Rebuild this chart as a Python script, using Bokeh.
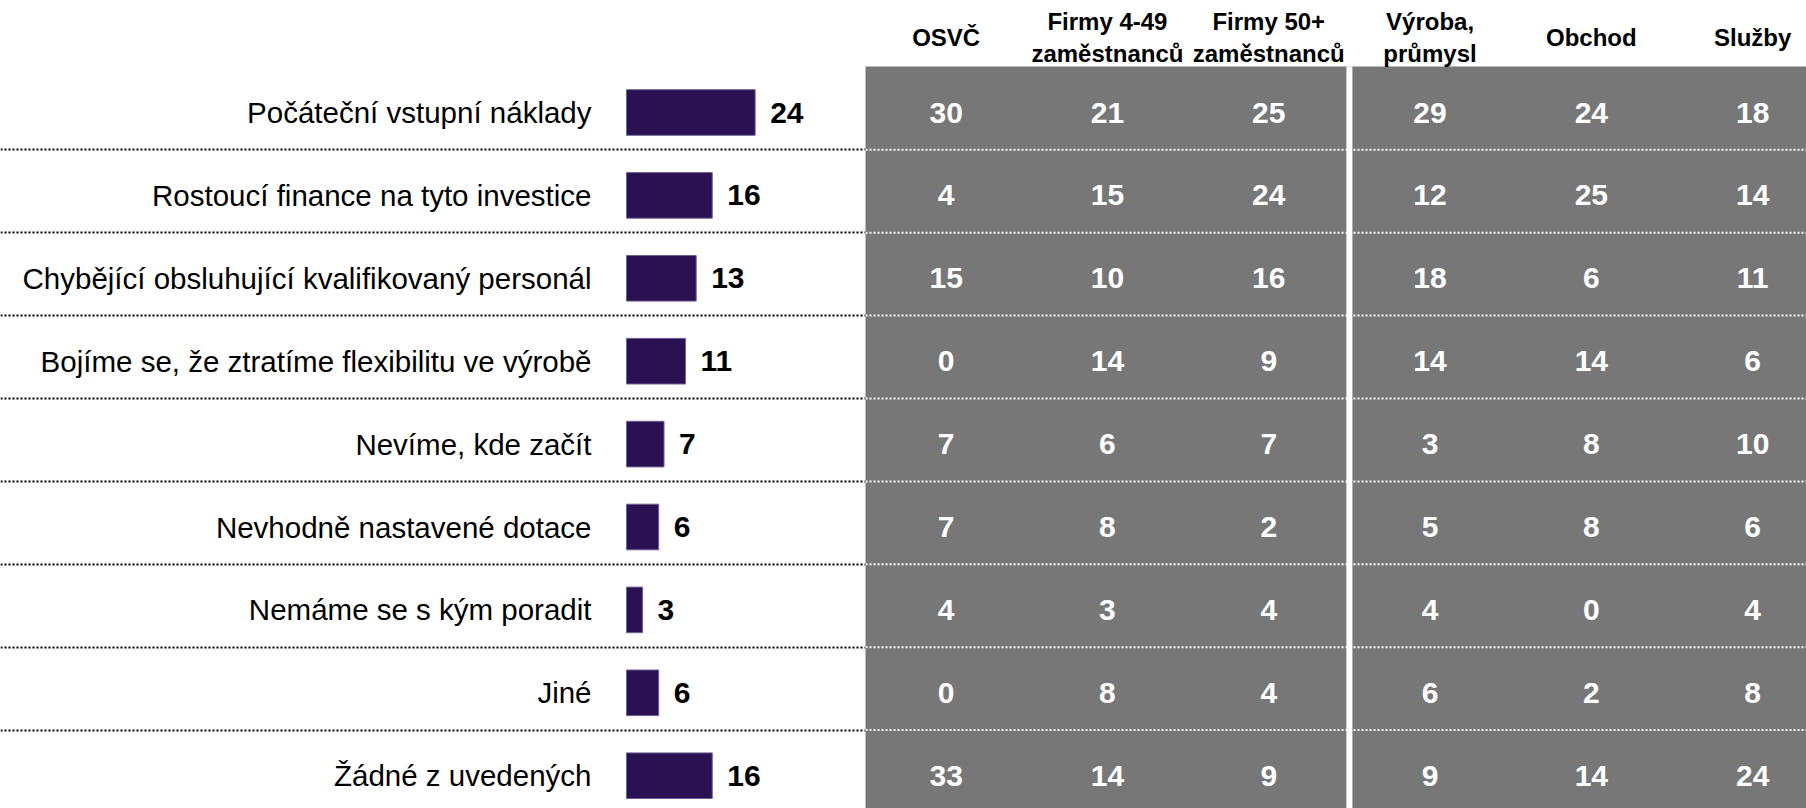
from bokeh.plotting import figure
from bokeh.models import Range1d, ColumnDataSource
from bokeh.core.properties import value
from bokeh.embed import file_html
from bokeh.resources import INLINE

# ---------------- data ----------------
categories = [
    "Počáteční vstupní náklady",
    "Rostoucí finance na tyto investice",
    "Chybějící obsluhující kvalifikovaný personál",
    "Bojíme se, že ztratíme flexibilitu ve výrobě",
    "Nevíme, kde začít",
    "Nevhodně nastavené dotace",
    "Nemáme se s kým poradit",
    "Jiné",
    "Žádné z uvedených",
]
totals = [24, 16, 13, 11, 7, 6, 3, 6, 16]

column_labels = ["OSVČ", "Firmy 4-49\nzaměstnanců", "Firmy 50+\nzaměstnanců",
                 "Výroba,\nprůmysl", "Obchod", "Služby"]
osvc = [30, 4, 15, 0, 7, 7, 4, 0, 33]
firmy_4_49 = [21, 15, 10, 14, 6, 8, 3, 8, 14]
firmy_50 = [25, 24, 16, 9, 7, 2, 4, 4, 9]
vyroba = [29, 12, 18, 14, 3, 5, 4, 6, 9]
obchod = [24, 25, 6, 14, 8, 8, 0, 2, 14]
sluzby = [18, 14, 11, 6, 10, 6, 4, 8, 24]
table = [osvc, firmy_4_49, firmy_50, vyroba, obchod, sluzby]

# ---------------- layout constants ----------------
W, H = 1806, 808
BAR_X0_PX = 626.0      # pixel where value 0 sits
PX_PER_UNIT = 5.36
ROW0_PX = 112.0        # pixel of first row centre (from top)
ROW_PX = 82.9
COL0_PX = 865.0        # left edge of grey panel
COL_PX = 161.3

FONT = "Liberation Sans"
BAR_COLOR = "#2A1152"
GREY = "#777777"

x_range = Range1d(-BAR_X0_PX / PX_PER_UNIT, (W - BAR_X0_PX) / PX_PER_UNIT)
y_range = Range1d((H - ROW0_PX) / ROW_PX, -ROW0_PX / ROW_PX)

p = figure(width=W, height=H, x_range=x_range, y_range=y_range,
           output_backend="svg", toolbar_location=None, min_border=0,
           x_axis_location=None, y_axis_location=None)
p.grid.visible = False
p.outline_line_color = None
p.background_fill_color = "white"
p.border_fill_color = "white"
p.extra_x_ranges = {"cols": Range1d(-COL0_PX / COL_PX - 0.5, (W - COL0_PX) / COL_PX - 0.5)}

rows = list(range(len(categories)))
n_cols = len(column_labels)
panel_top = -0.555
panel_bottom = len(categories) + 0.5
seps = [r + 0.45 for r in rows[:-1]]

# black dotted separators across the whole width
p.hspan(y=seps, line_color="black", line_width=2, line_dash="2 2")

# grey panel
p.quad(left=[-0.5], right=[n_cols - 0.5], top=[panel_top], bottom=[panel_bottom],
       x_range_name="cols", fill_color=GREY, line_color=None)
# white gap between the two panels
p.segment(x0=[2.5], x1=[2.5], y0=[panel_top], y1=[panel_bottom], x_range_name="cols",
          line_color="white", line_width=6)
# white dotted separators over the panel
p.segment(x0=[-0.5] * len(seps), x1=[n_cols - 0.5] * len(seps), y0=seps, y1=seps,
          x_range_name="cols", line_color="white", line_width=2, line_dash="2 2")

# bars
src = ColumnDataSource(dict(row=rows, total=totals, cat=categories,
                            lbl=[str(v) for v in totals]))
p.hbar(y="row", left=0, right="total", height=0.55, source=src,
       fill_color=BAR_COLOR, line_color="#6d5f93", line_width=1)

# category labels
p.text(x=0, y="row", text="cat", source=src, x_offset=-35,
       text_align="right", text_baseline="middle", text_font=value(FONT),
       text_font_size="29.5px", text_color="black")

# bar value labels
p.text(x="total", y="row", text="lbl", source=src, x_offset=15,
       text_align="left", text_baseline="middle", text_font=value(FONT),
       text_font_size="30px", text_font_style="bold", text_color="black")

# table values
tx, ty, tt = [], [], []
for ci, col in enumerate(table):
    for r, v in enumerate(col):
        tx.append(ci)
        ty.append(r)
        tt.append(str(v))
p.text(x=tx, y=ty, text=tt, x_range_name="cols",
       text_align="center", text_baseline="middle", text_font=value(FONT),
       text_font_size="30px", text_font_style="bold", text_color="white")

# column headers
p.text(x=list(range(n_cols)), y=[-0.905] * n_cols, text=column_labels, x_range_name="cols",
       text_align="center", text_baseline="middle", text_font=value(FONT),
       text_font_size="24px", text_font_style="bold", text_color="black",
       text_line_height=1.2)

open("out.html", "w").write(file_html(p, INLINE))
